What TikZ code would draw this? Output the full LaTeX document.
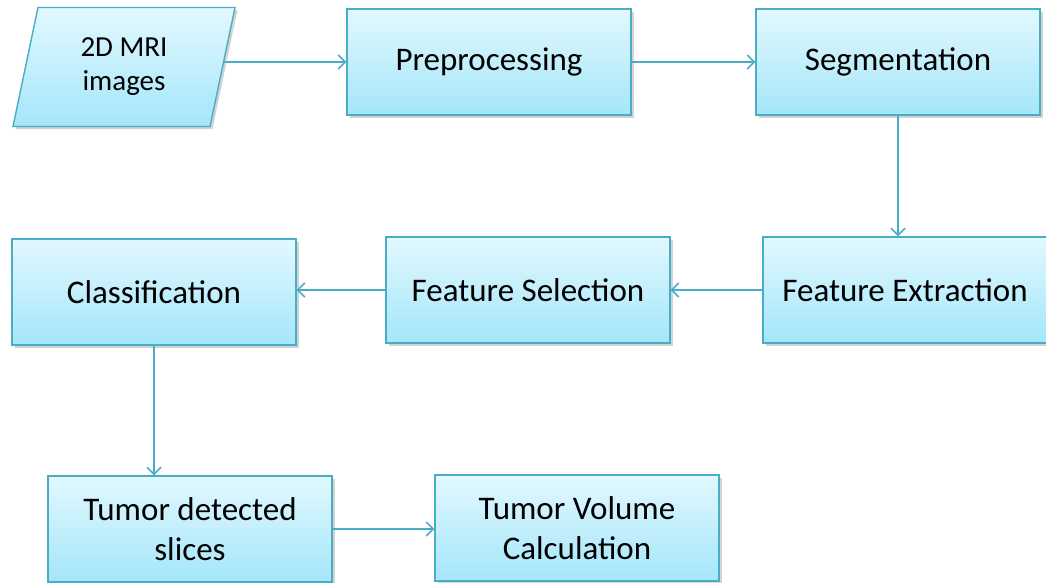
\documentclass[tikz,border=0pt]{standalone}
\usepackage{fontspec}
\setmainfont{Carlito}
\usetikzlibrary{arrows.meta,shapes.geometric,shadows}
\definecolor{boxline}{HTML}{4BACC6}
\definecolor{boxtop}{HTML}{E2F8FE}
\definecolor{boxbot}{HTML}{A4E6FA}
\begin{document}
\begin{tikzpicture}[x=1pt,y=-1pt,
    stage/.style={rectangle, draw=boxline, line width=1.4pt, top color=boxtop, bottom color=boxbot,
      minimum width=284pt, minimum height=106pt, align=center, inner sep=2pt,
      font=\fontsize{33}{40}\selectfont,
      drop shadow={shadow xshift=2.5pt, shadow yshift=-2.5pt, opacity=0.35}},
    inputbox/.style={stage, trapezium, trapezium left angle=68, trapezium right angle=112,
      trapezium stretches body, minimum width=222pt, minimum height=119pt,
      font=\fontsize{29}{34}\selectfont},
    flow/.style={draw=boxline, line width=1.5pt, -{Straight Barb[length=7pt,width=14pt]}}]
   \useasboundingbox (0,0) rectangle (1046,582);
   \node[inputbox] (mri) at (124,67) {2D MRI\\images};
   \node[stage] (prep) at (489,62) {Preprocessing};
   \node[stage] (seg) at (898,62) {Segmentation};
   \node[stage] (fext) at (905,290) {Feature Extraction};
   \node[stage] (fsel) at (528,290) {Feature Selection};
   \node[stage] (cls) at (154,292) {Classification};
   \node[stage] (slices) at (190,529) {Tumor detected\\slices};
   \node[stage] (vol) at (577,528) {Tumor Volume\\Calculation};
   \draw[flow] (mri.east |- prep.west) -- (prep.west);
   \draw[flow] (prep) -- (seg);
   \draw[flow] (seg.south) -- (seg.south |- fext.north);
   \draw[flow] (fext) -- (fsel);
   \draw[flow] (fsel.west) -- (fsel.west -| cls.east);
   \draw[flow] (cls.south) -- (cls.south |- slices.north);
   \draw[flow] (slices.east) -- (slices.east -| vol.west);
\end{tikzpicture}
\end{document}
